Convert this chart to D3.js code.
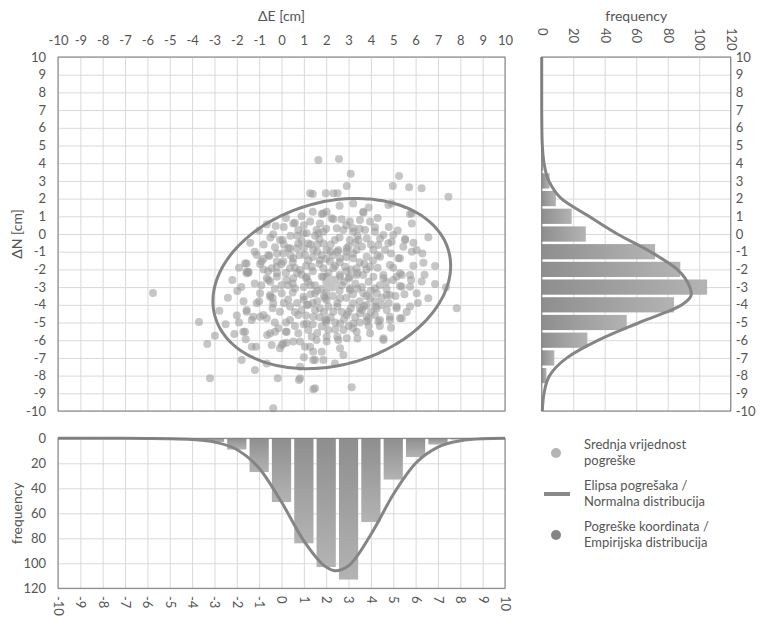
<!DOCTYPE html>
<html><head><meta charset="utf-8">
<script src="https://cdn.jsdelivr.net/npm/d3@7"></script>
<style>
body{margin:0;background:#fff}
svg text{font-family:Lato,"Open Sans",sans-serif;fill:#555}
</style>
</head><body><svg id="c" width="765" height="618"></svg>
<script>
// ---------------- data ----------------
const coordTicks = d3.range(-10, 11);            // -10 .. 10
const freqTicks = [0, 20, 40, 60, 80, 100, 120];

// histogram of ΔE (bottom panel)
const binsE = [-3, -2, -1, 0, 1, 2, 3, 4, 5, 6, 7, 8];
const countsE = [3, 9, 27, 51, 84, 103, 113, 67, 33, 15, 5, 1];

// histogram of ΔN (right panel)
const binsN = [4, 3, 2, 1, 0, -1, -2, -3, -4, -5, -6, -7, -8];
const countsN = [1, 5, 9, 19, 28, 72, 88, 105, 84, 54, 29, 8, 3];

// normal distribution curve of ΔE
const normE_x = [-10, -9, -8, -7, -6, -5, -4, -3, -2, -1, 0, 1, 2, 2.4, 3, 4, 5, 6, 7, 8, 9, 10];
const normE_f = [0, 0, 0, 0, 0.1, 0.3, 1, 3, 9, 24, 51, 82, 103, 106, 102, 77, 45, 20, 7, 2, 0.4, 0];

// normal distribution curve of ΔN
const normN_y = [10, 9, 8, 7, 6, 5, 4, 3, 2, 1, 0, -1, -2, -3, -3.4, -4, -5, -6, -7, -8, -9, -10];
const normN_f = [0, 0, 0, 0, 0.1, 0.4, 1.5, 4.5, 12.5, 30, 48, 69, 86, 94, 95, 89, 62, 36, 16, 5, 1.5, 0.4];

// error ellipse (centre, semi-axes, rotation in degrees)
const ellipseCentre = [2.25, -2.8];
const ellipseAxes = [5.62, 4.45];
const ellipseAngle = 32;

// mean error
const meanPoint = [2.25, -2.8];

// coordinate errors [ΔE, ΔN] in cm
const errorPoints = [
[1.65,4.18],[2.57,4.24],[3.1,3.4],[5.26,3.28],[4.98,2.71],[5.71,2.64],[6.27,2.58],[7.47,2.11],[2.92,2.71],
[1.28,2.30],[1.40,2.26],[1.98,2.30],[2.32,2.3],[2.51,2.3],[4.78,1.64],[4.92,1.73],[3.21,1.73],
[3.66,1.26],[5.83,1.17],[1.40,1.26],[1.80,1.13],[2.02,1.26],[3.66,1.20],[1.87,1.17],[5.75,1.13],
[-0.66,0.55],[-0.26,0.45],[0.60,0.64],[1.28,0.70],[1.72,0.60],[0.75,0.23],[1.13,0.04],[1.57,0.23],[-0.37,-0.02],
[2.32,0.83],[2.69,0.83],[3.06,0.70],[3.51,0.79],[3.96,0.70],[4.18,0.38],[3.74,0.23],[3.21,0.32],[2.77,0.23],
[4.56,-0.06],[5.0,-0.06],[5.53,-0.28],[5.83,0.60],[6.57,-0.19],[4.78,-0.52],[4.41,-0.25],
[2.24,0.89],[2.47,0.32],[1.87,0.13],[1.65,0.04],[0.98,0.04],[0.53,0.60],[3.21,0.13],[4.18,0.13],
[-0.07,-0.34],[0.38,-0.81],[0.68,-0.81],[-0.29,-0.75],[0.08,-1.09],[-1.11,-1.19],[-0.54,-1.24],[0.05,-0.34],
[0.30,-0.81],[0.75,-0.53],[1.20,-0.53],[1.87,-0.53],[-0.59,-1.19],[0.53,-1.37],[1.05,-1.19],[1.42,-0.90],[1.72,-1.47],
[2.39,-0.34],[3.06,-0.34],[3.44,-0.34],[3.81,-0.25],[4.33,-0.62],[4.93,-0.44],[5.53,-0.34],[5.45,-0.72],[2.02,-0.90],
[2.54,-0.90],[2.92,-0.81],[3.36,-0.90],[4.11,-0.90],[4.63,-0.90],[5.83,-1.0],[5.23,-1.37],[4.41,-1.28],[3.81,-1.28],
[3.21,-1.37],[2.62,-1.37],[6.05,-0.90],[5.30,-1.37],[6.35,-1.62],[6.87,-1.81],
[-1.56,-1.66],[-0.96,-1.69],[-1.56,-2.13],[-0.21,-1.85],[-1.63,-1.66],[-0.89,-1.56],[-0.21,-1.56],[0.08,-1.56],
[-1.48,-2.13],[-0.44,-1.94],[0.38,-1.94],[0.83,-2.03],[1.35,-1.85],[1.87,-1.94],[1.13,-2.41],[0.53,-2.5],[2.17,-1.56],
[2.32,-1.94],[2.84,-1.85],[3.36,-1.94],[3.96,-1.85],[4.85,-1.75],[5.30,-2.22],[5.75,-2.32],[4.56,-2.32],[3.66,-2.32],
[3.06,-2.41],[2.02,-2.41],[-1.48,-2.19],[-1.56,-2.22],[-0.66,-2.5],[-0.21,-2.41],[0.23,-2.6],[-0.59,-2.6],[1.87,-2.41],
[2.62,-2.41],[3.36,-2.32],[4.11,-2.41],[5.15,-2.41],[4.56,-2.5],[5.38,-2.32],[5.0,-2.6],[6.27,-2.69],
[-5.75,-3.33],[-1.98,-3.22],[-0.96,-3.35],[-0.51,-3.54],[0.01,-3.35],[0.60,-3.07],[0.98,-3.54],[1.50,-3.35],[1.95,-3.63],
[-0.51,-3.45],[5.38,-2.98],[4.85,-3.45],[4.26,-3.35],[3.66,-3.35],[3.06,-3.16],[2.62,-3.63],[2.02,-3.73],[5.30,-2.94],
[6.05,-3.35],[6.57,-3.63],[6.87,-2.82],[7.36,-3.01],[5.75,-2.98],[4.18,-3.07],[3.06,-3.07],[4.71,-3.45],[3.96,-3.63],
[-2.78,-4.33],[-1.11,-3.91],[-1.56,-4.29],[-0.37,-3.91],[0.38,-4.10],[1.13,-4.01],[1.72,-4.2],[-1.56,-4.39],[-0.07,-4.39],
[3.21,-3.91],[3.81,-4.01],[4.48,-4.01],[5.15,-4.10],[5.75,-4.10],[2.32,-4.39],[3.51,-4.48],[3.51,-4.2],[4.26,-4.20],
[4.71,-4.29],[5.15,-4.2],[7.84,-4.2],
[-3.69,-4.97],[-1.33,-4.86],[-0.96,-4.67],[-0.66,-4.76],[0.38,-4.86],[-0.81,-4.58],[0.75,-4.58],[1.42,-4.67],[2.02,-4.86],
[-1.26,-4.67],[1.13,-5.05],[1.80,-5.23],[2.92,-4.58],[4.18,-4.58],[4.85,-4.67],[5.30,-4.76],[1.95,-4.86],[2.62,-5.05],
[3.21,-5.05],[3.81,-4.95],[4.33,-4.95],[2.09,-5.42],[2.77,-5.42],[3.36,-5.52],[5.38,-4.76],[4.41,-4.86],[4.85,-4.86],
[3.81,-4.67],[-0.14,-5.33],[1.20,-5.42],[3.21,-5.33],[-1.63,-5.52],[-0.29,-5.52],[0.23,-5.52],
[-2.98,-5.75],[-3.32,-6.21],[-2.11,-5.65],[-1.71,-5.52],[-1.60,-5.95],[-1.33,-6.37],[-1.14,-6.37],[-0.64,-5.71],
[-0.44,-6.27],[-0.07,-6.46],[0.01,-6.27],[0.23,-6.14],[0.53,-6.08],[-0.51,-5.61],[0.20,-5.52],[0.75,-5.61],[0.83,-6.08],
[1.05,-6.37],[1.57,-5.99],[1.42,-6.65],[1.80,-6.65],[2.02,-6.08],[3.96,-5.61],[4.56,-5.99],[2.62,-6.46],[2.92,-5.89],
[1.28,-6.37],[1.35,-5.8],[2.02,-5.8],[2.54,-5.99],[4.56,-5.89],[0.08,-6.18],
[-3.2,-8.15],[-1.78,-7.12],[-1.19,-7.68],[-0.17,-8.15],[-0.37,-9.85],[-0.66,-7.31],[0.78,-8.25],[1.50,-8.72],[1.0,-6.97],
[1.42,-7.12],[0.83,-7.50],[1.87,-7.12],[0.83,-8.15],[1.42,-8.77],[3.14,-8.66],[2.77,-6.84],[2.39,-7.31],[1.5,-7.12],
[1.2,-2.7],[1.5,-2.9],[1.8,-3.1],[2.1,-2.2],[2.4,-2.6],[2.7,-2.9],[3.0,-2.5],[3.3,-2.8],[3.6,-3.0],[3.9,-2.7],
[1.0,-3.0],[1.3,-3.4],[1.6,-3.8],[2.0,-3.3],[2.3,-3.5],[2.6,-3.2],[2.9,-3.6],[3.2,-3.4],[3.5,-3.8],[3.8,-3.5],
[0.5,-2.8],[0.7,-3.9],[0.9,-2.3],[1.1,-1.8],[1.4,-2.1],[1.7,-1.7],[2.0,-1.4],[2.3,-1.2],[2.6,-1.6],[2.9,-1.3],
[3.2,-1.1],[3.5,-1.6],[3.8,-2.0],[4.1,-1.5],[4.4,-2.9],[4.7,-3.1],[4.2,-3.8],[1.9,-4.4],[2.5,-4.1],[2.8,-4.8],
[1.5,-4.3],[1.1,-4.6],[0.6,-4.4],[0.3,-3.7],[0.0,-2.9],[-0.3,-3.1],[0.2,-2.2],[0.5,-1.6],[0.8,-1.2],[1.3,-0.6],
[1.7,-0.3],[2.2,-0.6],[2.6,-0.2],[3.0,-0.7],[3.4,-0.1],[2.0,-5.0],[2.4,-5.4],[3.0,-5.2],[1.6,-5.6],[1.0,-5.1],
[3.5,-5.0],[4.0,-4.4],[4.4,-5.2],[3.1,-4.2],[2.2,-4.7],[1.8,-2.4],[2.9,-2.1],[3.4,-2.2],[1.4,-1.3],[2.5,-1.0],
[0.9,-0.4],[0.4,-0.1],[-0.5,-2.7],[-0.8,-2.0],[-1.2,-2.8],[-1.0,-3.8],[-0.4,-4.2],[0.2,-5.0],[1.2,-4.0],[3.7,-4.1],
[0.2,0.9],[0.9,1.0],[2.6,1.6],[3.9,1.5],[4.3,0.9],[-1.0,0.2],[-1.4,-0.5],[-0.8,-0.6],[0.1,0.4],[1.0,0.5],
[1.5,-0.1],[2.0,0.3],[2.9,0.5],[3.5,0.3],[4.8,0.4],[5.2,0.2],[5.9,-0.5],[6.3,-1.1],[4.0,-0.6],[3.3,-0.5],
[1.6,-1.0],[1.0,-0.8],[0.4,-1.2],[-0.2,-1.1],[-0.8,-1.4],[-1.9,-1.9],[-2.2,-2.6],[-1.8,-3.0],[-2.4,-3.6],[-1.7,-3.8],
[-2.0,-4.6],[-2.5,-5.1],[-1.9,-5.0],[-0.3,-5.0],[0.6,-5.2],[1.4,-5.1],[2.5,-5.8],[3.4,-5.9],[3.9,-5.2],[4.9,-5.3],
[5.6,-4.4],[6.1,-3.9],[6.4,-2.3],[5.9,-1.8],[4.9,-1.1],[4.3,-1.9],[4.7,-2.7],[5.1,-3.5],[4.5,-3.6],[4.0,-3.2],
[3.4,-3.1],[2.8,-2.7],[2.2,-3.0],[1.6,-3.2],[1.1,-2.5],[0.7,-2.2],[0.3,-2.9],[-0.2,-2.2],[0.1,-3.9],[0.9,-4.3],
[1.4,-3.9],[2.1,-4.1],[2.7,-4.4],[3.3,-4.7],[3.9,-4.8],[2.5,-3.9],[1.9,-3.5],[1.3,-2.9],[2.0,-2.7],[2.6,-2.3],
[3.1,-2.0],[3.7,-1.7],[2.4,-1.8],[1.8,-1.2],[1.2,-1.5],[0.6,-1.9],[0.0,-1.7],[-0.6,-2.1],[-0.9,-2.9],[-0.4,-3.6],
[0.5,-3.3],[1.0,-3.7],[1.7,-4.7],[2.4,-5.0],[3.0,-4.4],[3.6,-4.3],[4.2,-4.1],[4.8,-3.9],[5.5,-3.4],[5.8,-2.6],
[5.0,-1.9],[4.3,-1.2],[3.6,-0.7],[2.9,-1.0],[2.2,-1.0],[1.6,-0.6],[0.7,-0.1],[0.1,-0.6],[-0.5,-0.2],[-1.2,-1.0]
];

const legendItems = [
  {type: "dot", colour: "#b5b5b5", lines: ["Srednja vrijednost", "pogreške"]},
  {type: "line", colour: "#8a8a8a", lines: ["Elipsa pogrešaka /", "Normalna distribucija"]},
  {type: "dot", colour: "#858585", lines: ["Pogreške koordinata /", "Empirijska distribucija"]}
];

// ---------------- layout ----------------
const svg = d3.select("#c");
const M = {l: 58, r: 505, t: 57, b: 411};
const R = {l: 541.7, r: 730.7};
const B = {t: 438.3, b: 588.3};
const gridCol = "#d9d9d9", frameCol = "#7a7a7a", curveCol = "#858585";
const fmt = d => String(d);

const xM = d3.scaleLinear([-10, 10], [M.l, M.r]);
const yM = d3.scaleLinear([-10, 10], [M.b, M.t]);
const xR = d3.scaleLinear([0, 120], [R.l, R.r]);
const yB = d3.scaleLinear([0, 120], [B.t, B.b]);

const defs = svg.append("defs");
const gB = defs.append("linearGradient").attr("id", "gB").attr("x1", 0).attr("y1", 0).attr("x2", 0).attr("y2", 1);
gB.append("stop").attr("offset", "0%").attr("stop-color", "#8e8e8e");
gB.append("stop").attr("offset", "100%").attr("stop-color", "#b3b3b3");
const gR = defs.append("linearGradient").attr("id", "gR").attr("x1", 0).attr("y1", 0).attr("x2", 1).attr("y2", 0);
gR.append("stop").attr("offset", "0%").attr("stop-color", "#8e8e8e");
gR.append("stop").attr("offset", "100%").attr("stop-color", "#b3b3b3");

function styleGrid(g) {
  g.select(".domain").remove();
  g.selectAll("line").attr("stroke", gridCol).attr("stroke-width", 1);
}
function styleAxis(g) {
  g.select(".domain").remove();
  g.selectAll("line").remove();
  g.selectAll("text").attr("fill", "#555").style("font-size", "13px");
}

// ---------- main scatter panel ----------
svg.append("g").attr("transform", `translate(0,${M.b})`)
  .call(d3.axisBottom(xM).tickValues(coordTicks).tickSize(-(M.b - M.t)).tickFormat(""))
  .call(styleGrid);
svg.append("g").attr("transform", `translate(${M.l},0)`)
  .call(d3.axisLeft(yM).tickValues(coordTicks).tickSize(-(M.r - M.l)).tickFormat(""))
  .call(styleGrid);

svg.append("g").attr("transform", `translate(0,${M.t})`)
  .call(d3.axisTop(xM).tickValues(coordTicks).tickFormat(fmt).tickSize(0).tickPadding(12))
  .call(styleAxis);
svg.append("g").attr("transform", `translate(${M.l},0)`)
  .call(d3.axisLeft(yM).tickValues(coordTicks).tickFormat(fmt).tickSize(0).tickPadding(12))
  .call(styleAxis);

svg.append("g").selectAll("circle").data(errorPoints).join("circle")
  .attr("cx", d => xM(d[0])).attr("cy", d => yM(d[1])).attr("r", 4)
  .attr("fill", "#999").attr("fill-opacity", 0.56);

// ellipse
const ang = ellipseAngle * Math.PI / 180;
const ellPts = d3.range(0, 360, 3).map(t => {
  const a = t * Math.PI / 180;
  const u = ellipseAxes[0] * Math.cos(a), v = ellipseAxes[1] * Math.sin(a);
  return [ellipseCentre[0] + u * Math.cos(ang) - v * Math.sin(ang),
          ellipseCentre[1] + u * Math.sin(ang) + v * Math.cos(ang)];
});
svg.append("path").datum(ellPts)
  .attr("d", d3.line().x(d => xM(d[0])).y(d => yM(d[1])).curve(d3.curveCardinalClosed))
  .attr("fill", "none").attr("stroke", curveCol).attr("stroke-width", 3);

svg.append("circle").attr("cx", xM(meanPoint[0])).attr("cy", yM(meanPoint[1])).attr("r", 8)
  .attr("fill", "#c4c4c4").attr("fill-opacity", 0.9);

svg.append("rect").attr("x", M.l).attr("y", M.t).attr("width", M.r - M.l).attr("height", M.b - M.t)
  .attr("fill", "none").attr("stroke", frameCol);

// ---------- right histogram ----------
svg.append("g").attr("transform", `translate(0,${M.b})`)
  .call(d3.axisBottom(xR).tickValues(freqTicks).tickSize(-(M.b - M.t)).tickFormat(""))
  .call(styleGrid);
svg.append("g").attr("transform", `translate(${R.l},0)`)
  .call(d3.axisLeft(yM).tickValues(coordTicks).tickSize(-(R.r - R.l)).tickFormat(""))
  .call(styleGrid);

svg.append("g").selectAll("rect").data(binsN).join("rect")
  .attr("x", xR(0)).attr("y", (d) => yM(d + 0.43))
  .attr("width", (d, i) => xR(countsN[i]) - xR(0))
  .attr("height", yM(-0.43) - yM(0.43))
  .attr("fill", "url(#gR)");

svg.append("path").datum(normN_y.map((y, i) => [normN_f[i], y]))
  .attr("d", d3.line().x(d => xR(d[0])).y(d => yM(d[1])).curve(d3.curveMonotoneY))
  .attr("fill", "none").attr("stroke", curveCol).attr("stroke-width", 3);

svg.append("rect").attr("x", R.l).attr("y", M.t).attr("width", R.r - R.l).attr("height", M.b - M.t)
  .attr("fill", "none").attr("stroke", frameCol);

const rTop = svg.append("g").attr("transform", `translate(0,28)`)
  .call(d3.axisTop(xR).tickValues(freqTicks).tickFormat(fmt).tickSize(0))
  .call(styleAxis);
rTop.selectAll("text").attr("x", 0).attr("y", 0).attr("dy", "0.35em")
  .attr("transform", "rotate(90)").attr("text-anchor", "start");

svg.append("g").attr("transform", `translate(${R.r},0)`)
  .call(d3.axisRight(yM).tickValues(coordTicks).tickFormat(fmt).tickSize(0).tickPadding(5))
  .call(styleAxis);

// ---------- bottom histogram ----------
svg.append("g").attr("transform", `translate(0,${B.b})`)
  .call(d3.axisBottom(xM).tickValues(coordTicks).tickSize(-(B.b - B.t)).tickFormat(""))
  .call(styleGrid);
svg.append("g").attr("transform", `translate(${M.l},0)`)
  .call(d3.axisLeft(yB).tickValues(freqTicks).tickSize(-(M.r - M.l)).tickFormat(""))
  .call(styleGrid);

svg.append("g").selectAll("rect").data(binsE).join("rect")
  .attr("x", d => xM(d - 0.43)).attr("y", yB(0))
  .attr("width", xM(0.43) - xM(-0.43))
  .attr("height", (d, i) => yB(countsE[i]) - yB(0))
  .attr("fill", "url(#gB)");

svg.append("path").datum(normE_x.map((x, i) => [x, normE_f[i]]))
  .attr("d", d3.line().x(d => xM(d[0])).y(d => yB(d[1])).curve(d3.curveMonotoneX))
  .attr("fill", "none").attr("stroke", curveCol).attr("stroke-width", 3);

svg.append("rect").attr("x", M.l).attr("y", B.t).attr("width", M.r - M.l).attr("height", B.b - B.t)
  .attr("fill", "none").attr("stroke", frameCol);

svg.append("g").attr("transform", `translate(${M.l},0)`)
  .call(d3.axisLeft(yB).tickValues(freqTicks).tickFormat(fmt).tickSize(0).tickPadding(12))
  .call(styleAxis);

const bBot = svg.append("g").attr("transform", `translate(0,596)`)
  .call(d3.axisBottom(xM).tickValues(coordTicks).tickFormat(fmt).tickSize(0))
  .call(styleAxis);
bBot.selectAll("text").attr("x", 0).attr("y", 0).attr("dy", "0.35em")
  .attr("transform", "rotate(90)").attr("text-anchor", "start");

// ---------- titles ----------
svg.append("text").attr("x", xM(0)).attr("y", 21).attr("text-anchor", "middle")
  .style("font-size", "14px").text("ΔE [cm]");
svg.append("text").attr("x", (R.l + R.r) / 2).attr("y", 21).attr("text-anchor", "middle")
  .style("font-size", "14px").text("frequency");
svg.append("text").attr("transform", `translate(22,${yM(0)}) rotate(-90)`).attr("text-anchor", "middle")
  .style("font-size", "14px").text("ΔN [cm]");
svg.append("text").attr("transform", `translate(22,${(B.t + B.b) / 2}) rotate(-90)`).attr("text-anchor", "middle")
  .style("font-size", "14px").text("frequency");

// ---------- legend ----------
const lg = svg.append("g");
legendItems.forEach((it, i) => {
  const cy = 453 + i * 41;
  if (it.type === "dot") {
    lg.append("circle").attr("cx", 556).attr("cy", cy).attr("r", 5).attr("fill", it.colour);
  } else {
    lg.append("line").attr("x1", 544).attr("x2", 570).attr("y1", cy).attr("y2", cy)
      .attr("stroke", it.colour).attr("stroke-width", 4);
  }
  it.lines.forEach((t, j) => {
    lg.append("text").attr("x", 584).attr("y", cy - 4 + j * 16).style("font-size", "13px").text(t);
  });
});
</script>
</body></html>
